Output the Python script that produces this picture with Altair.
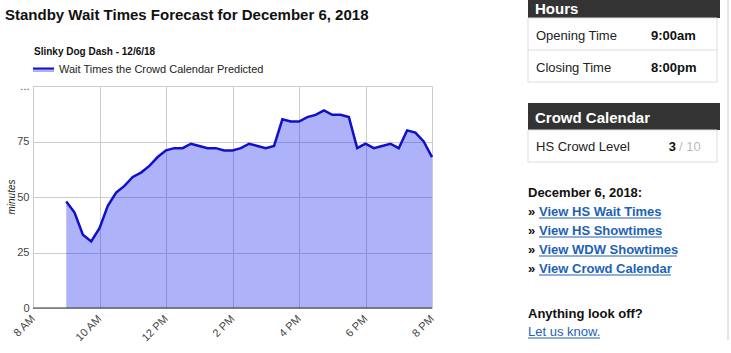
import altair as alt
import pandas as pd

# ---- chart data ----
times = ["9:00", "9:15", "9:30", "9:45", "10:00", "10:15", "10:30", "10:45",
         "11:00", "11:15", "11:30", "11:45", "12:00", "12:15", "12:30", "12:45",
         "13:00", "13:15", "13:30", "13:45", "14:00", "14:15", "14:30", "14:45",
         "15:00", "15:15", "15:30", "15:45", "16:00", "16:15", "16:30", "16:45",
         "17:00", "17:15", "17:30", "17:45", "18:00", "18:15", "18:30", "18:45",
         "19:00", "19:15", "19:30", "19:45", "20:00"]
waits = [48, 43, 33, 30, 36, 46, 52, 55,
         59, 61, 64, 68, 71, 72, 72, 74,
         73, 72, 72, 71, 71, 72, 74, 73,
         72, 73, 85, 84, 84, 86, 87, 89,
         87, 87, 86, 72, 74, 72, 73, 74,
         72, 80, 79, 75, 68]
x_ticks = [8, 10, 12, 14, 16, 18, 20]
y_ticks = [0, 25, 50, 75, 100]

title_text = "Standby Wait Times Forecast for December 6, 2018"
subtitle_text = "Slinky Dog Dash - 12/6/18"
legend_text = "Wait Times the Crowd Calendar Predicted"
y_title = "minutes"

hours_rows = [("Opening Time", "9:00am"), ("Closing Time", "8:00pm")]
crowd_label = "HS Crowd Level"
crowd_level = "3"
crowd_max = "/ 10"
date_head = "December 6, 2018:"
links = ["View HS Wait Times", "View HS Showtimes", "View WDW Showtimes", "View Crowd Calendar"]

def to_hours(t):
    h, m = t.split(":")
    return int(h) + int(m) / 60.0

df = pd.DataFrame({"hour": [to_hours(t) for t in times], "wait": waits})

# ---- layout ----
OX, OY = 33, 86          # plot origin in page pixels
W, H = 399, 222
FONT = "Liberation Sans"
LINE = "#1010cc"
FILL = "#0a14ee"
LINK = "#1e62b6"

def one():
    return pd.DataFrame({"a": [0]})

def txt(s, x, y, size=13, weight="normal", color="#222222", align="left",
        baseline="alphabetic", angle=0, style="normal"):
    return alt.Chart(pd.DataFrame({"t": [s]})).mark_text(
        font=FONT, fontSize=size, fontWeight=weight, color=color, align=align,
        baseline=baseline, angle=angle, fontStyle=style
    ).encode(x=alt.value(x - OX), y=alt.value(y - OY), text="t:N")

def box(x1, x2, y1, y2, fill=None, stroke=None):
    kw = {}
    if fill is not None:
        kw["fill"] = fill
    else:
        kw["fillOpacity"] = 0
    if stroke is not None:
        kw["stroke"] = stroke
        kw["strokeWidth"] = 1
    return alt.Chart(one()).mark_rect(**kw).encode(
        x=alt.value(x1 - OX), x2=alt.value(x2 - OX),
        y=alt.value(y1 - OY), y2=alt.value(y2 - OY))

def hline(x1, x2, y, color="#dddddd", width=1):
    return alt.Chart(one()).mark_rule(color=color, strokeWidth=width).encode(
        x=alt.value(x1 - OX), x2=alt.value(x2 - OX),
        y=alt.value(y - OY))

def vline(x, y1, y2, color="#dddddd", width=1):
    return alt.Chart(one()).mark_rule(color=color, strokeWidth=width).encode(
        x=alt.value(x - OX), y=alt.value(y1 - OY), y2=alt.value(y2 - OY))

xscale = alt.Scale(domain=[8, 20], nice=False, zero=False)
yscale = alt.Scale(domain=[0, 100], nice=False)

x_label_expr = ("datum.value == 12 ? '12 PM' : (datum.value < 12 ? datum.value + ' AM' "
                ": (datum.value - 12) + ' PM')")

base = alt.Chart(df).encode(
    x=alt.X("hour:Q", scale=xscale,
            axis=alt.Axis(values=x_ticks, labelExpr=x_label_expr, title=None,
                          grid=True, gridColor="#cccccc", ticks=False,
                          domain=False, labelAngle=-45, labelAlign="right",
                          labelBaseline="middle", labelPadding=9,
                          labelColor="#444444", labelFontSize=11, labelFont=FONT)),
    y=alt.Y("wait:Q", scale=yscale,
            axis=alt.Axis(values=y_ticks,
                          labelExpr="datum.value == 100 ? '...' : datum.label",
                          title=None, grid=True, gridColor="#cccccc", ticks=False,
                          domain=False, labelPadding=4, labelColor="#444444",
                          labelFontSize=11, labelFont=FONT)),
)

area = base.mark_area(color=FILL, opacity=0.33)
line = base.mark_line(color=LINE, strokeWidth=2.5)
baseline_rule = alt.Chart(one()).mark_rule(color="#333333", strokeWidth=1.2).encode(
    y=alt.datum(0, scale=yscale), x=alt.value(0), x2=alt.value(W))

layers = [area, line, baseline_rule]

# titles and legend
layers += [
    txt(title_text, 5, 20, size=15, weight="bold", color="#111111"),
    txt(subtitle_text, 34, 55, size=10, weight="bold", color="#111111"),
    box(33, 54, 68, 72, fill="#aab0f8"),
    hline(33, 54, 68.5, color=LINE, width=2),
    txt(legend_text, 59, 73, size=11, color="#222222"),
    txt(y_title, 12, 197, size=10, style="italic", color="#222222",
        align="center", baseline="middle", angle=270),
]

# sidebar: Hours
layers += [
    box(528, 720, -5, 18, fill="#333333"),
    txt("Hours", 535, 14, size=15, weight="bold", color="#ffffff"),
    box(528, 717, 18, 82, stroke="#dddddd"),
    hline(528, 717, 50),
    txt(hours_rows[0][0], 536, 40, size=13),
    txt(hours_rows[0][1], 651, 40, size=13, weight="bold", color="#111111"),
    txt(hours_rows[1][0], 536, 72, size=13),
    txt(hours_rows[1][1], 651, 72, size=13, weight="bold", color="#111111"),
]
# sidebar: Crowd Calendar
layers += [
    box(528, 720, 103, 130, fill="#333333"),
    txt("Crowd Calendar", 535, 123, size=15, weight="bold", color="#ffffff"),
    box(528, 717, 130, 162, stroke="#dddddd"),
    txt(crowd_label, 536, 151, size=13),
    txt(crowd_level, 676, 151, size=13, weight="bold", color="#111111", align="right"),
    txt(crowd_max, 679, 151, size=13, color="#bbbbbb"),
]
# sidebar: links
layers.append(txt(date_head, 528, 197, size=13, weight="bold", color="#111111"))
link_widths = [122, 123, 138, 132]
for i, (lk, lw) in enumerate(zip(links, link_widths)):
    yb = 216 + 19 * i
    layers.append(txt("\u00bb", 528, yb, size=13, weight="bold", color="#111111"))
    layers.append(txt(lk, 539, yb, size=13, weight="bold", color=LINK))
    layers.append(hline(539, 539 + lw, yb + 2, color=LINK, width=1))
layers += [
    txt("Anything look off?", 528, 318, size=13, weight="bold", color="#111111"),
    txt("Let us know.", 528, 336, size=13, color=LINK),
    hline(528, 600, 338, color=LINK, width=1),
    vline(728, 0, 340, color="#cccccc"),
]

chart = alt.layer(*layers).properties(
    width=W, height=H,
    autosize=alt.AutoSizeParams(type="none"),
    padding={"left": OX, "top": OY, "right": 731 - OX - W, "bottom": 353 - OY - H},
    background="white",
).configure_view(stroke=None)

chart.save("out.html", embed_options={"renderer": "svg", "actions": False})
